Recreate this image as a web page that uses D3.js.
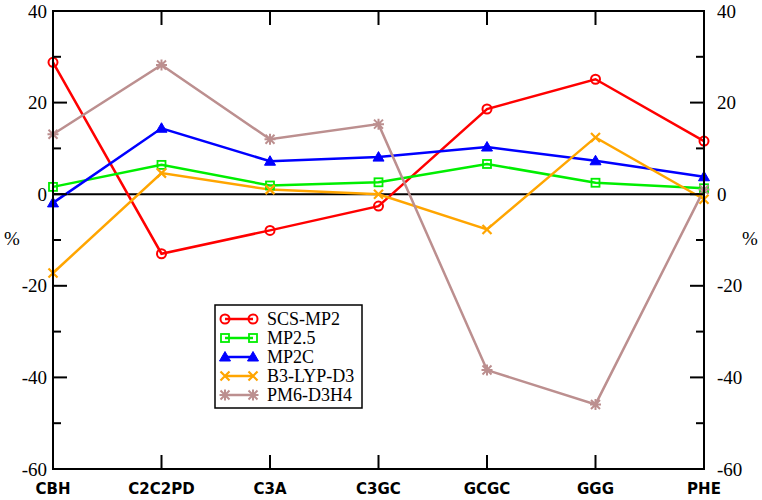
<!DOCTYPE html>
<html><head><meta charset="utf-8">
<script src="https://cdn.jsdelivr.net/npm/d3@7"></script>
<style>body{margin:0;background:#fff}</style>
</head><body>
<svg id="c" width="762" height="500"></svg>
<script>
const categories = ["CBH","C2C2PD","C3A","C3GC","GCGC","GGG","PHE"];
const seriesNames = ["SCS-MP2","MP2.5","MP2C","B3-LYP-D3","PM6-D3H4"];
const scsMP2 = [28.8,-13.0,-7.9,-2.6,18.6,25.1,11.6];
const mp25   = [1.6,6.4,1.9,2.6,6.6,2.5,1.3];
const mp2c   = [-1.9,14.4,7.2,8.1,10.3,7.3,3.8];
const b3lyp  = [-17.2,4.6,1.0,0.0,-7.7,12.4,-1.1];
const pm6    = [13.1,28.2,12.0,15.3,-38.4,-45.9,1.0];
const yTicks = [-60,-40,-20,0,20,40];
const colors = ["#ff0000","#00ee00","#0000ff","#ffa500","#bc8f8f"];
const symbols = ["circle","square","triangle","cross","star"];
const data = [scsMP2,mp25,mp2c,b3lyp,pm6];

const SERIF = "'Liberation Serif'";
const svg = d3.select("#c");
const L=53,R=704,T=11,B=469;
const x = d3.scalePoint().domain(categories).range([L,R]);
const y = d3.scaleLinear().domain([-60,40]).range([B,T]);

function marker(g, type, cx, cy, col){
  if(type==="circle") g.append("circle").attr("cx",cx).attr("cy",cy).attr("r",4.5).attr("fill","none").attr("stroke",col).attr("stroke-width",2);
  else if(type==="square") g.append("rect").attr("x",cx-4).attr("y",cy-4).attr("width",8).attr("height",8).attr("fill","none").attr("stroke",col).attr("stroke-width",1.8);
  else if(type==="triangle") g.append("path").attr("d",`M${cx},${cy-5.5}L${cx+5.5},${cy+4}L${cx-5.5},${cy+4}Z`).attr("fill",col).attr("stroke",col).attr("stroke-width",1);
  else if(type==="cross") g.append("path").attr("d",`M${cx-4.5},${cy-4.5}L${cx+4.5},${cy+4.5}M${cx-4.5},${cy+4.5}L${cx+4.5},${cy-4.5}`).attr("stroke",col).attr("stroke-width",2.2);
  else if(type==="star") g.append("path").attr("d",`M${cx-4.5},${cy-4.5}L${cx+4.5},${cy+4.5}M${cx-4.5},${cy+4.5}L${cx+4.5},${cy-4.5}M${cx},${cy-5.5}L${cx},${cy+5.5}M${cx-5.5},${cy}L${cx+5.5},${cy}`).attr("stroke",col).attr("stroke-width",2);
}

svg.append("line").attr("x1",L).attr("x2",R).attr("y1",y(0)).attr("y2",y(0)).attr("stroke","#000").attr("stroke-width",2);

const line = d3.line().x((d,i)=>x(categories[i])).y(d=>y(d));
data.forEach((s,k)=>{
  svg.append("path").datum(s).attr("d",line).attr("fill","none").attr("stroke",colors[k]).attr("stroke-width",2.5);
});
data.forEach((s,k)=>{
  const g = svg.append("g");
  s.forEach((v,i)=>marker(g,symbols[k],x(categories[i]),y(v),colors[k]));
});

svg.append("rect").attr("x",L).attr("y",T).attr("width",R-L).attr("height",B-T).attr("fill","none").attr("stroke","#000").attr("stroke-width",2);

const minor = d3.range(-50,40,20);
yTicks.forEach(t=>{
  svg.append("line").attr("x1",L).attr("x2",L+14).attr("y1",y(t)).attr("y2",y(t)).attr("stroke","#000").attr("stroke-width",2);
  svg.append("line").attr("x1",R-14).attr("x2",R).attr("y1",y(t)).attr("y2",y(t)).attr("stroke","#000").attr("stroke-width",2);
  svg.append("text").attr("x",L-6).attr("y",y(t)).attr("dy","0.35em").attr("text-anchor","end")
    .style("font-family",SERIF).style("font-size","19px").text(t);
  svg.append("text").attr("x",R+13).attr("y",y(t)).attr("dy","0.35em").attr("text-anchor","start")
    .style("font-family",SERIF).style("font-size","19px").text(t);
});
minor.forEach(t=>{
  svg.append("line").attr("x1",L).attr("x2",L+8).attr("y1",y(t)).attr("y2",y(t)).attr("stroke","#000").attr("stroke-width",2);
  svg.append("line").attr("x1",R-8).attr("x2",R).attr("y1",y(t)).attr("y2",y(t)).attr("stroke","#000").attr("stroke-width",2);
});
categories.forEach(c=>{
  svg.append("line").attr("x1",x(c)).attr("x2",x(c)).attr("y1",B).attr("y2",B-14).attr("stroke","#000").attr("stroke-width",2);
  svg.append("line").attr("x1",x(c)).attr("x2",x(c)).attr("y1",T).attr("y2",T+14).attr("stroke","#000").attr("stroke-width",2);
  svg.append("text").attr("x",x(c)).attr("y",494).attr("text-anchor","middle")
    .style("font-family","'DejaVu Sans'").style("font-weight","bold").style("font-size","15px").text(c);
});
svg.append("text").attr("x",12).attr("y",245).attr("text-anchor","middle").style("font-family",SERIF).style("font-size","19px").text("%");
svg.append("text").attr("x",750).attr("y",245).attr("text-anchor","middle").style("font-family",SERIF).style("font-size","19px").text("%");

const lg = svg.append("g");
lg.append("rect").attr("x",215).attr("y",305).attr("width",147).attr("height",103).attr("fill","#fff").attr("stroke","#000").attr("stroke-width",1.5);
seriesNames.forEach((n,k)=>{
  const yy = 319 + k*19;
  lg.append("line").attr("x1",225).attr("x2",253).attr("y1",yy).attr("y2",yy).attr("stroke",colors[k]).attr("stroke-width",2.5);
  marker(lg,symbols[k],225,yy,colors[k]);
  marker(lg,symbols[k],253,yy,colors[k]);
  lg.append("text").attr("x",267).attr("y",yy).attr("dy","0.35em").style("font-family",SERIF).style("font-size","18px").text(n);
});
</script>
</body></html>
